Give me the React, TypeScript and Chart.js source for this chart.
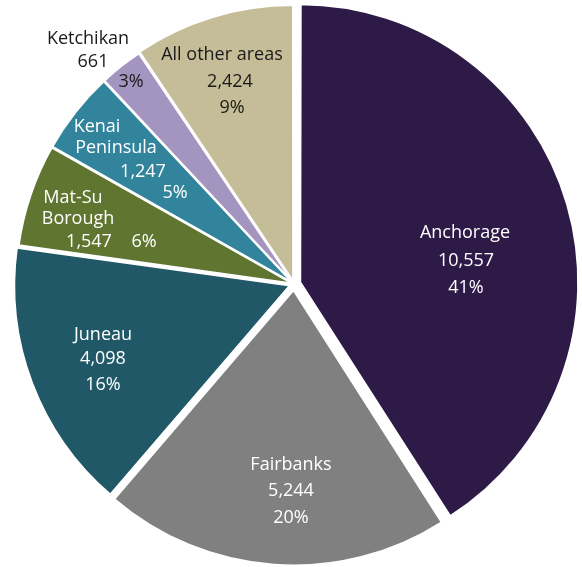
import React, { useEffect, useRef } from "react";
import { Chart, registerables } from "chart.js";

Chart.register(...registerables);

const categories = [
  "Anchorage",
  "Fairbanks",
  "Juneau",
  "Mat-Su Borough",
  "Kenai Peninsula",
  "Ketchikan",
  "All other areas",
];
const values = [10557, 5244, 4098, 1547, 1247, 661, 2424];
const valueLabels = ["10,557", "5,244", "4,098", "1,547", "1,247", "661", "2,424"];
const percentLabels = ["41%", "20%", "16%", "6%", "5%", "3%", "9%"];
const colors = ["#2e1a47", "#808080", "#215868", "#5f7530", "#31849b", "#a495c0", "#c4bd97"];
// desired explosion distance in px for each slice
const explode = [9.5, 6.5, 5, 3, 3, 3, 4];

// Chart.js ArcElement translates by offset/4 * (2 - sin(min(PI, circumference)))
const total = values.reduce((a, b) => a + b, 0);
const offsets = values.map((v, i) => {
  const c = (v / total) * Math.PI * 2;
  return (4 * explode[i]) / (2 - Math.sin(Math.min(Math.PI, c)));
});

const WHITE = "#ffffff";
const DARK = "#1a1a1a";

// label layout: [text, dx, dy, color] relative to pie centre
type Line = [string, number, number, string];
const labelLayout: Line[] = [
  [categories[0], 171, -51, WHITE],
  [valueLabels[0], 172, -23, WHITE],
  [percentLabels[0], 172, 4, WHITE],
  [categories[1], -3, 181, WHITE],
  [valueLabels[1], -3, 207, WHITE],
  [percentLabels[1], -3, 234, WHITE],
  [categories[2], -191, 51, WHITE],
  [valueLabels[2], -191, 75, WHITE],
  [percentLabels[2], -191, 101, WHITE],
  ["Mat-Su", -221, -86, WHITE],
  ["Borough", -216, -65, WHITE],
  [valueLabels[3], -205, -42, WHITE],
  [percentLabels[3], -150, -42, WHITE],
  ["Kenai", -197, -157, WHITE],
  ["Peninsula", -178, -136, WHITE],
  [valueLabels[4], -151, -112, WHITE],
  [percentLabels[4], -119, -91, WHITE],
  [categories[5], -206, -245, DARK],
  [valueLabels[5], -201, -222, DARK],
  [percentLabels[5], -163, -202, DARK],
  [categories[6], -72, -229, DARK],
  [valueLabels[6], -64, -202, DARK],
  [percentLabels[6], -62, -176, DARK],
];

const labelPlugin = {
  id: "sliceLabels",
  afterDatasetsDraw(chart: any) {
    const { ctx, chartArea } = chart;
    const cx = (chartArea.left + chartArea.right) / 2;
    const cy = (chartArea.top + chartArea.bottom) / 2;
    ctx.save();
    ctx.font = "18px 'Open Sans', Lato, sans-serif";
    ctx.textAlign = "center";
    ctx.textBaseline = "middle";
    for (const [t, dx, dy, c] of labelLayout) {
      ctx.fillStyle = c;
      ctx.fillText(t, cx + dx, cy + dy);
    }
    ctx.restore();
  },
};

export default function App() {
  const ref = useRef<HTMLCanvasElement | null>(null);
  useEffect(() => {
    if (!ref.current) return;
    const chart = new Chart(ref.current, {
      type: "pie",
      data: {
        labels: categories,
        datasets: [
          {
            data: values,
            backgroundColor: colors,
            borderColor: "#ffffff",
            borderWidth: 2,
            offset: offsets,
            radius: 275,
          } as any,
        ],
      },
      options: {
        responsive: false,
        animation: false,
        radius: 275,
        layout: { padding: { left: 6, right: 0, top: 1, bottom: 0 } },
        plugins: {
          legend: { display: false },
          tooltip: { enabled: false },
        },
      } as any,
      plugins: [labelPlugin],
    });
    return () => chart.destroy();
  }, []);
  return (
    <div style={{ position: "fixed", left: 0, top: 0, width: 582, height: 567, background: "#fff" }}>
      <canvas ref={ref} width={582} height={567} />
    </div>
  );
}
